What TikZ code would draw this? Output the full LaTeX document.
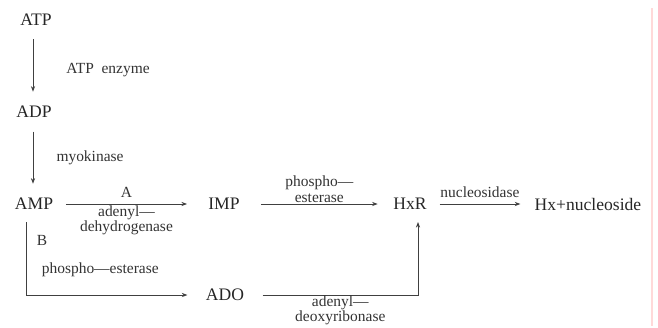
\documentclass[tikz,border=0pt]{standalone}
\usepackage{fontspec}
\setmainfont{Liberation Serif}
\usepackage{tikz}
\usetikzlibrary{positioning,arrows.meta}
\usepackage{xcolor}

\tikzset{
  chem/.style={inner sep=1pt, font=\fontsize{12.5}{13}\selectfont, text=black!85},
  enz/.style={inner sep=1pt, font=\fontsize{11}{10.8}\selectfont, text=black!80, align=center},
  flow/.style={->, >={Stealth[length=4pt,width=3pt]}, line width=0.6pt, draw=black!75}
}

\begin{document}
\begin{tikzpicture}[x=0.25mm, y=-0.25mm]
                \useasboundingbox (0,0) rectangle (658,327);

                % metabolites
                \node[chem] (atp) at (36,20) {ATP};
                \node[chem] (adp) at (34,112) {ADP};
                \node[chem] (amp) at (34,204) {AMP};
                \node[chem] (imp) at (224,204) {IMP};
                \node[chem] (hxr) at (410,204) {HxR};
                \node[chem, anchor=west] (hx) at (533,204) {Hx+nucleoside};
                \node[chem] (ado) at (225,295) {ADO};

                % free ends
                \coordinate (bstart) at (26,222);
                \coordinate (hxrin) at (418,222);

                % down the left side
                \draw[flow, shorten <=3mm, shorten >=3.2mm] (atp.south -| 33,0) -- (adp.north -| 33,0);
                \node[enz] (enzatp) at (108,70) {ATP\ \ enzyme};
                \draw[flow, shorten <=3mm, shorten >=3.2mm] (adp.south -| 33,0) -- (amp.north -| 33,0);
                \node[enz] (myok) at (90,158) {myokinase};

                % route A
                \draw[flow] ([xshift=8pt]amp.east) -- ([xshift=-14pt]imp.west)
                  node[midway, above=3pt, enz] {A}
                  node[midway, below=0pt, enz] {adenyl—\\dehydrogenase};
                \draw[flow] ([xshift=14pt]imp.east) -- ([xshift=-10pt]hxr.west)
                  node[midway, above=0pt, enz] {phospho—\\esterase};
                \draw[flow] ([xshift=8pt]hxr.east) -- ([xshift=-9pt]hx.west)
                  node[midway, above=3pt, enz] {nucleosidase};

                % route B
                \node[enz] (blabel) at (42,240) {B};
                \draw[flow] (bstart) |- ([xshift=-12pt]ado.west)
                  node[pos=0.73, above=12pt, enz] {phospho—esterase};
                \draw[flow] ([xshift=12pt]ado.east) -| (hxrin)
                  node[pos=0.25, below=-1pt, enz] {adenyl—\\deoxyribonase};

                % edge of the scan
                \draw[red!15, line width=0.8pt] (652,8) -- (652,326);
            \end{tikzpicture}
\end{document}
